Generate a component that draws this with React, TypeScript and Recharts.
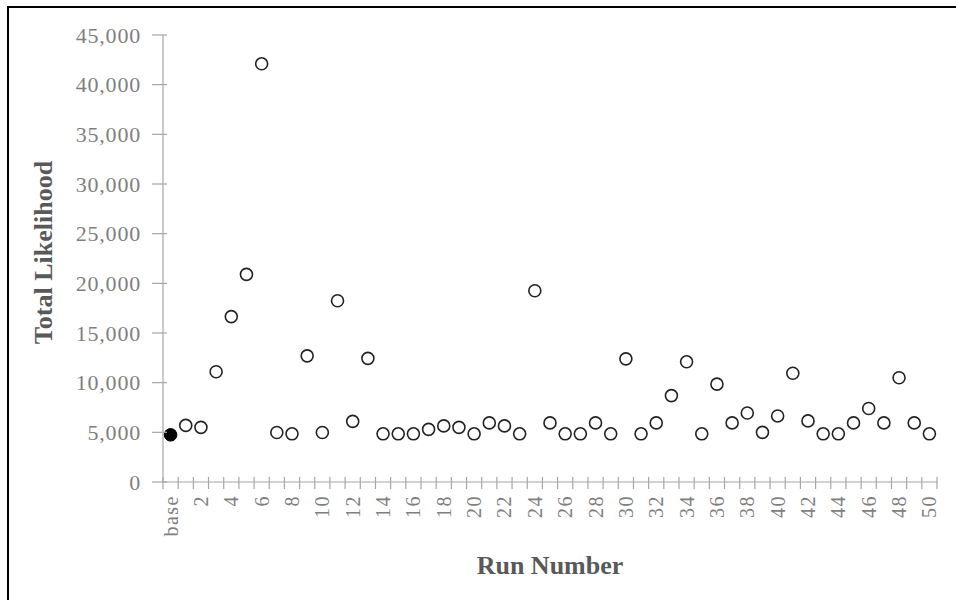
import React from 'react';
import { ScatterChart, Scatter, XAxis, YAxis } from 'recharts';

const categories = [
  'base', '1', '2', '3', '4', '5', '6', '7', '8', '9', '10',
  '11', '12', '13', '14', '15', '16', '17', '18', '19', '20',
  '21', '22', '23', '24', '25', '26', '27', '28', '29', '30',
  '31', '32', '33', '34', '35', '36', '37', '38', '39', '40',
  '41', '42', '43', '44', '45', '46', '47', '48', '49', '50',
];

const likelihood = [
  4750, 5700, 5500, 11100, 16650, 20900, 42100, 4980, 4850, 12700, 4980,
  18250, 6100, 12450, 4850, 4850, 4850, 5300, 5650, 5500, 4850,
  5950, 5650, 4850, 19250, 5950, 4850, 4850, 5950, 4850, 12400,
  4850, 5950, 8700, 12100, 4850, 9850, 5950, 6950, 5000, 6650,
  10950, 6150, 4850, 4850, 5950, 7400, 5950, 10500, 5950, 4850,
];

const labelledRuns = [
  'base', '2', '4', '6', '8', '10', '12', '14', '16', '18', '20', '22', '24',
  '26', '28', '30', '32', '34', '36', '38', '40', '42', '44', '46', '48', '50',
];

const yTicks = [0, 5000, 10000, 15000, 20000, 25000, 30000, 35000, 40000, 45000];

const W = 956;
const H = 600;
const AXIS_LEFT = 163;
const RIGHT = 19;
const TOP = 35;
const X_AXIS_H = 118;
const PLOT_W = W - AXIS_LEFT - RIGHT;
const STEP = PLOT_W / categories.length;

const FONT = '"Liberation Serif", "Times New Roman", serif';
const AXIS_COLOR = '#a6a6a6';
const LABEL_COLOR = '#7f7f7f';
const TITLE_COLOR = '#595959';

const data = categories.map((run, i) => ({ idx: i, run, value: likelihood[i] }));
const baseData = data.filter((d) => d.run === 'base');
const runData = data.filter((d) => d.run !== 'base');

// tick marks sit between categories, like Excel's category axis
const boundaries = [...categories.map((_, i) => i - 0.5), categories.length - 0.5];

const XTick = (props: any) => {
  const { x, y, payload } = props;
  const cat = categories[Math.round(payload.value + 0.5)];
  const show = cat !== undefined && labelledRuns.includes(cat);
  const cx = x + STEP / 2;
  return (
    <g>
      <line x1={x} x2={x} y1={y - 5} y2={y + 7} stroke={AXIS_COLOR} strokeWidth={1.2} />
      {show && (
        <text
          x={cx}
          y={y + 13}
          transform={`rotate(-90 ${cx} ${y + 13})`}
          textAnchor="end"
          dominantBaseline="central"
          fontFamily={FONT}
          fontSize={20}
          letterSpacing={1.5}
          fill={LABEL_COLOR}
        >
          {cat}
        </text>
      )}
    </g>
  );
};

const YTick = (props: any) => {
  const { x, y, payload } = props;
  return (
    <g>
      <line x1={x - 11} x2={x + 4} y1={y} y2={y} stroke={AXIS_COLOR} strokeWidth={1.2} />
      <text
        x={x - 22}
        y={y}
        textAnchor="end"
        dominantBaseline="central"
        fontFamily={FONT}
        fontSize={22}
        letterSpacing={0.8}
        fill={LABEL_COLOR}
      >
        {payload.value.toLocaleString('en-US')}
      </text>
    </g>
  );
};

const Ring = (props: any) => (
  <circle cx={props.cx} cy={props.cy} r={6} fill="#fff" stroke="#222" strokeWidth={1.6} />
);

const Dot = (props: any) => (
  <circle cx={props.cx} cy={props.cy} r={6.3} fill="#000" stroke="#000" strokeWidth={1} />
);

const YTitle = (props: any) => {
  const vb = props.viewBox;
  const cx = 43;
  const cy = vb.y + vb.height / 2 - 6;
  return (
    <text
      x={cx}
      y={cy}
      transform={`rotate(-90 ${cx} ${cy})`}
      textAnchor="middle"
      dominantBaseline="central"
      fontFamily={FONT}
      fontWeight="bold"
      fontSize={26}
      fill={TITLE_COLOR}
    >
      Total Likelihood
    </text>
  );
};

const XTitle = (props: any) => {
  const vb = props.viewBox;
  return (
    <text
      x={vb.x + vb.width / 2}
      y={565}
      textAnchor="middle"
      dominantBaseline="central"
      fontFamily={FONT}
      fontWeight="bold"
      fontSize={26}
      fill={TITLE_COLOR}
    >
      Run Number
    </text>
  );
};

export default function App() {
  return (
    <div style={{ position: 'absolute', left: 0, top: 0, width: W, height: H, background: '#fff', overflow: 'hidden' }}>
      <div
        style={{
          position: 'absolute',
          left: 7,
          top: 6,
          width: W,
          height: H,
          borderTop: '2px solid #000',
          borderLeft: '2px solid #000',
        }}
      />
      <ScatterChart
        width={W}
        height={H}
        margin={{ top: TOP, right: RIGHT, bottom: 0, left: 0 }}
        style={{ position: 'absolute', left: 0, top: 0 }}
      >
        <XAxis
          type="number"
          dataKey="idx"
          domain={[-0.5, categories.length - 0.5]}
          ticks={boundaries}
          interval={0}
          height={X_AXIS_H}
          tickLine={false}
          tickSize={0}
          tickMargin={0}
          tick={<XTick />}
          axisLine={{ stroke: AXIS_COLOR, strokeWidth: 1.2 }}
          label={<XTitle />}
        />
        <YAxis
          type="number"
          dataKey="value"
          domain={[0, 45000]}
          ticks={yTicks}
          interval={0}
          width={AXIS_LEFT}
          tickLine={false}
          tickSize={0}
          tickMargin={0}
          tick={<YTick />}
          axisLine={{ stroke: AXIS_COLOR, strokeWidth: 1.2 }}
          label={<YTitle />}
        />
        <Scatter data={runData} shape={<Ring />} isAnimationActive={false} />
        <Scatter data={baseData} shape={<Dot />} isAnimationActive={false} />
      </ScatterChart>
    </div>
  );
}
